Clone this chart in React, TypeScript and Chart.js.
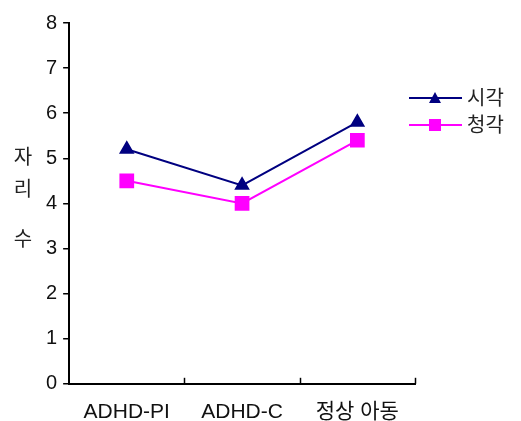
import React, { useEffect, useRef } from "react";
import { Chart, registerables } from "chart.js";

Chart.register(...registerables);

const categories = ["ADHD-PI", "ADHD-C", "정상 아동"];
const visualValues = [5.2, 4.4, 5.8];
const auditoryValues = [4.5, 4.0, 5.4];
const seriesNames = ["시각", "청각"];
const yTitleChars = ["자", "리", "수"];

const FONT = '"Liberation Sans", "Noto Sans CJK KR", sans-serif';

const extrasPlugin = {
  id: "extras",
  afterDraw(chart: any) {
    const ctx = chart.ctx;
    const x = chart.scales.x;
    const area = chart.chartArea;
    ctx.save();
    // inward x ticks at category boundaries
    ctx.strokeStyle = "#000";
    ctx.lineWidth = 1.5;
    for (let i = 0; i < categories.length; i++) {
      const px = Math.round(x.getPixelForValue(i + 0.5)) + 0.5;
      ctx.beginPath();
      ctx.moveTo(px, area.bottom);
      ctx.lineTo(px, area.bottom - 6);
      ctx.stroke();
    }
    // y title stacked
    ctx.fillStyle = "#222";
    ctx.font = `20px ${FONT}`;
    ctx.textAlign = "center";
    ctx.textBaseline = "middle";
    const ys = [158, 190, 240];
    yTitleChars.forEach((c, i) => ctx.fillText(c, 23, ys[i]));
    // legend
    const ds = chart.data.datasets;
    const ly = [98, 125];
    ds.forEach((d: any, i: number) => {
      ctx.strokeStyle = d.borderColor;
      ctx.lineWidth = 2;
      ctx.beginPath();
      ctx.moveTo(409, ly[i]);
      ctx.lineTo(462, ly[i]);
      ctx.stroke();
      ctx.fillStyle = d.backgroundColor;
      if (d.pointStyle === "triangle") {
        ctx.beginPath();
        ctx.moveTo(435, ly[i] - 6);
        ctx.lineTo(441, ly[i] + 5);
        ctx.lineTo(429, ly[i] + 5);
        ctx.closePath();
        ctx.fill();
      } else {
        ctx.fillRect(429, ly[i] - 6, 12, 12);
      }
      ctx.fillStyle = "#222";
      ctx.textAlign = "left";
      ctx.font = `20px ${FONT}`;
      ctx.fillText(seriesNames[i], 467, ly[i] + 1);
    });
    ctx.restore();
  },
};

export default function App() {
  const ref = useRef<HTMLCanvasElement>(null);
  useEffect(() => {
    document.body.style.margin = "0";
    const chart = new Chart(ref.current!, {
      type: "line",
      data: {
        labels: categories,
        datasets: [
          {
            label: seriesNames[0],
            data: visualValues,
            borderColor: "#000080",
            backgroundColor: "#000080",
            borderWidth: 2,
            pointStyle: "triangle",
            pointRadius: 7,
            pointHoverRadius: 7,
          },
          {
            label: seriesNames[1],
            data: auditoryValues,
            borderColor: "#FF00FF",
            backgroundColor: "#FF00FF",
            borderWidth: 2,
            pointStyle: "rect",
            pointRadius: 9,
            pointHoverRadius: 9,
          },
        ],
      },
      options: {
        animation: false,
        responsive: false,
        events: [],
        layout: { padding: { left: 40, right: 106, top: 23, bottom: -20 } },
        plugins: { legend: { display: false }, tooltip: { enabled: false } },
        scales: {
          x: {
            offset: true,
            grid: { display: false, drawTicks: false, tickLength: 0 },
            border: { display: true, color: "#000", width: 2 },
            ticks: { color: "#111", font: { family: FONT, size: 21 }, padding: 16 },
          },
          y: {
            min: 0,
            max: 8,
            grid: { drawOnChartArea: false, tickLength: 6, color: "#000", lineWidth: 1.5 },
            border: { display: true, color: "#000", width: 2 },
            ticks: { stepSize: 1, color: "#111", font: { family: FONT, size: 20 }, padding: 6 },
          },
        },
      },
      plugins: [extrasPlugin],
    });
    return () => chart.destroy();
  }, []);
  return <canvas ref={ref} width={521} height={421} style={{ display: "block" }} />;
}
